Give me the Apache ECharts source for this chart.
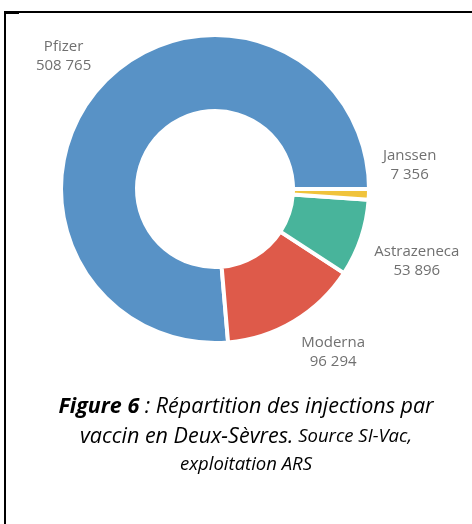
<!DOCTYPE html>
<html>
<head>
<meta charset="utf-8">
<script src="https://cdn.jsdelivr.net/npm/echarts@6/dist/echarts.min.js"></script>
<style>
  html, body { margin: 0; padding: 0; background: #fff; }
  #chart { width: 472px; height: 524px; }
</style>
</head>
<body>
<div id="chart"></div>
<script>
// vaccins et nombre d'injections
const vaccins = ['Pfizer', 'Moderna', 'Astrazeneca', 'Janssen'];
const injections = [508765, 96294, 53896, 7356];
const couleurs = ['#5892c6', '#de5a4a', '#48b49b', '#f0c33c'];

const cx = 215, cy = 189;

function fmt(v) {
  return String(v).replace(/\B(?=(\d{3})+(?!\d))/g, ' ');
}

const myChart = echarts.init(document.getElementById('chart'));

myChart.setOption({
  animation: false,
  title: {
    left: 241,
    top: 387,
    textAlign: 'center',
    text: '{b|Figure 6}{i| : Répartition des injections par}\n{i|vaccin en Deux-Sèvres.}{s| Source SI-Vac,}\n{s|exploitation ARS}',
    textStyle: {
      fontWeight: 'normal',
      rich: {
        b: { fontFamily: 'Open Sans', fontStyle: 'italic', fontWeight: 'bold', fontSize: 21.5, color: '#000', lineHeight: 30 },
        i: { fontFamily: 'Open Sans', fontStyle: 'italic', fontWeight: 'normal', fontSize: 21.5, color: '#000', lineHeight: 30 },
        s: { fontFamily: 'Open Sans', fontStyle: 'italic', fontWeight: 'normal', fontSize: 18.5, color: '#000', lineHeight: 26 }
      }
    }
  },
  graphic: [
    // cadre
    { type: 'rect', shape: { x: 4, y: 11, width: 2, height: 520 }, style: { fill: '#000' } },
    { type: 'rect', shape: { x: 4, y: 11, width: 470, height: 2 }, style: { fill: '#000' } },
    { type: 'rect', shape: { x: 4, y: 11, width: 15, height: 3 }, style: { fill: '#000' } }
  ],
  series: [
    {
      type: 'pie',
      center: [cx, cy],
      radius: [78, 154],
      startAngle: 0,
      clockwise: false,
      avoidLabelOverlap: false,
      color: couleurs,
      itemStyle: { borderColor: '#fff', borderWidth: 4 },
      emphasis: { disabled: true },
      label: {
        position: 'outside',
        distanceToLabelLine: 0,
        fontFamily: 'Open Sans',
        fontSize: 15,
        lineHeight: 19,
        color: '#707070',
        formatter: p => p.name + '\n' + fmt(p.value)
      },
      labelLine: { show: false, length: 14, length2: 0 },
      labelLayout: function (params) {
        const w = params.labelRect.width;
        const midY = params.labelRect.y + params.labelRect.height / 2;
        const right = params.align === 'left';
        const out = {
          align: 'center',
          verticalAlign: midY > cy ? 'top' : 'bottom',
          dx: right ? w / 2 : -w / 2
        };
        if (vaccins[params.dataIndex] === 'Janssen') {
          out.verticalAlign = 'bottom';
          out.dy = -11;
        }
        return out;
      },
      data: vaccins.map((n, i) => ({ name: n, value: injections[i] }))
    }
  ]
});
</script>
</body>
</html>
